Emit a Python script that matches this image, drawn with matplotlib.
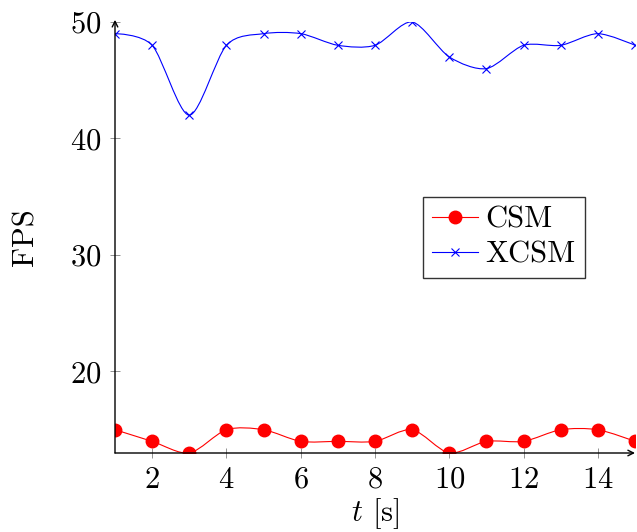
import numpy as np
import matplotlib
matplotlib.use("Agg")
import matplotlib.pyplot as plt
from matplotlib.path import Path
from matplotlib.patches import PathPatch

plt.rcParams['font.family'] = 'serif'
plt.rcParams['font.serif'] = ['cmr10', 'DejaVu Serif']
plt.rcParams['mathtext.fontset'] = 'cm'
plt.rcParams['axes.formatter.use_mathtext'] = True

# data
t = [1, 2, 3, 4, 5, 6, 7, 8, 9, 10, 11, 12, 13, 14, 15]
csm = [15, 14, 13, 15, 15, 14, 14, 14, 15, 13, 14, 14, 15, 15, 14]
xcsm = [49, 48, 42, 48, 49, 49, 48, 48, 50, 47, 46, 48, 48, 49, 48]


def smooth_path(x, y, tension=0.14):
    # tikz-style "smooth" bezier through the points
    p = np.column_stack([x, y]).astype(float)
    n = len(p)
    verts = [p[0]]
    codes = [Path.MOVETO]
    for i in range(n - 1):
        a = p[i - 1] if i > 0 else p[i]
        d = p[i + 2] if i + 2 < n else p[i + 1]
        c1 = p[i] + tension * (p[i + 1] - a) if i > 0 else p[i]
        c2 = p[i + 1] - tension * (d - p[i]) if i + 2 < n else p[i + 1]
        verts += [c1, c2, p[i + 1]]
        codes += [Path.CURVE4] * 3
    return Path(verts, codes)


fig = plt.figure(figsize=(6.37, 5.32), dpi=100)
ax = fig.add_axes([115 / 637, 79 / 532, 520 / 637, 431 / 532])

for y, col in [(csm, 'red'), (xcsm, 'blue')]:
    ax.add_patch(PathPatch(smooth_path(t, y), fc='none', ec=col, lw=0.8, clip_on=True))

ax.plot(t, csm, ls='none', marker='o', ms=9, color='red', mec='red', clip_on=True)
ax.plot(t, xcsm, ls='none', marker='x', ms=6, mew=0.8, color='blue', clip_on=True)

# legend proxies
ax.plot([], [], color='red', lw=0.8, marker='o', ms=9, label='CSM')
ax.plot([], [], color='blue', lw=0.8, marker='x', ms=6, mew=0.8, label='XCSM')

ax.set_xlim(1, 15)
ax.set_ylim(13, 50)
ax.set_xticks([2, 4, 6, 8, 10, 12, 14])
ax.set_yticks([20, 30, 40, 50])
ax.tick_params(direction='inout', length=7, width=0.6, color='gray', labelsize=22)
ax.tick_params(axis='y', pad=6)
ax.tick_params(axis='x', pad=6)

for s in ax.spines.values():
    s.set_visible(False)
ax.annotate('', xy=(1.0, 0), xytext=(0, 0), xycoords='axes fraction',
            arrowprops=dict(arrowstyle='->', lw=1.0, color='black', shrinkA=0, shrinkB=0))
ax.annotate('', xy=(0, 1.005), xytext=(0, 0), xycoords='axes fraction',
            arrowprops=dict(arrowstyle='->', lw=1.0, color='black', shrinkA=0, shrinkB=0))

ax.set_xlabel(r'$t$ [s]', fontsize=22, labelpad=2)
ax.set_ylabel('FPS', fontsize=22, labelpad=22)

leg = ax.legend(loc='upper left', bbox_to_anchor=(0.592, 0.594),
                fontsize=22, frameon=True, fancybox=False, edgecolor='black',
                handlelength=1.5, borderpad=0.3, labelspacing=0.25, handletextpad=0.25,
                borderaxespad=0)
leg.get_frame().set_linewidth(1.0)

fig.savefig('out.png', dpi=100)
